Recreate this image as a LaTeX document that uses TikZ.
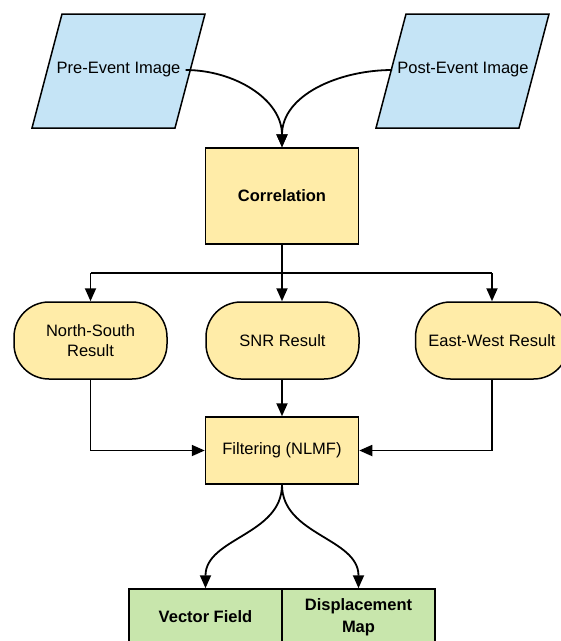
\documentclass[tikz,border=0pt]{standalone}
\usepackage{fontspec}
\setmainfont{Liberation Sans}
\usetikzlibrary{arrows.meta}
\definecolor{inblue}{RGB}{197,228,246}
\definecolor{procyellow}{RGB}{255,236,168}
\definecolor{outgreen}{RGB}{200,230,172}
\tikzset{
  box/.style={draw=black, line width=1.5pt, inner sep=0pt, align=center,
    font=\fontsize{16.5}{20}\selectfont},
  procbox/.style={box, fill=procyellow, minimum width=153pt},
  termbox/.style={box, fill=procyellow, minimum width=153pt, minimum height=77pt,
    rounded corners=35pt},
  outbox/.style={box, fill=outgreen, minimum width=153pt, minimum height=56pt,
    font=\fontsize{16.5}{22}\selectfont\bfseries},
  inshape/.style={draw=black, line width=1.5pt, fill=inblue},
  intext/.style={font=\fontsize{16.5}{20}\selectfont, inner sep=5pt},
  arr/.style={line width=1.8pt, -{Triangle[length=13pt,width=11pt]}},
  wire/.style={line width=1.8pt}
}
\begin{document}
\begin{tikzpicture}[x=1pt,y=-1pt]
  \useasboundingbox (0,0) rectangle (561,641);

  % input images (parallelograms)
  \filldraw[inshape] (62,14) -- (205,14) -- (175,128) -- (32,128) -- cycle;
  \filldraw[inshape] (406,14) -- (549,14) -- (519,128) -- (376,128) -- cycle;
  \node[intext] (pre) at (118.5,70) {Pre-Event Image};
  \node[intext] (post) at (463,70) {Post-Event Image};

  % processing steps
  \node[procbox, minimum height=96pt, font=\fontsize{16.5}{20}\selectfont\bfseries]
    (corr) at (282,196) {Correlation};
  \node[termbox] (ns) at (90.5,340.5) {North-South\\Result};
  \node[termbox] (snr) at (282.5,340.5) {SNR Result};
  \node[termbox] (ew) at (492,340.5) {East-West Result};
  \node[procbox, minimum height=67pt] (filt) at (282,450.5) {Filtering (NLMF)};

  % outputs
  \node[outbox] (vec) at (205.5,617) {Vector Field};
  \node[outbox] (disp) at (358.5,617) {Displacement\\Map};

  % connectors
  \draw[arr] (pre.east) to[out=0,in=90] (corr.north);
  \draw[arr] (post.west) to[out=180,in=90] (corr.north);

  \coordinate (split) at (282,273);
  \draw[wire] (corr.south) -- (split);
  \draw[wire] (ns.north |- split) -- (ew.north |- split);
  \draw[arr] (split) -- (snr.north -| split);
  \draw[arr] (ns.north |- split) -- (ns.north);
  \draw[arr] (ew.north |- split) -- (ew.north);

  \draw[arr] (snr.south -| filt.north) -- (filt.north);
  \draw[arr] (ns.south) |- (filt.west);
  \draw[arr] (ew.south) |- (filt.east);

  \draw[arr] (filt.south) to[out=-90,in=90] (vec.north);
  \draw[arr] (filt.south) to[out=-90,in=90] (disp.north);
\end{tikzpicture}
\end{document}
